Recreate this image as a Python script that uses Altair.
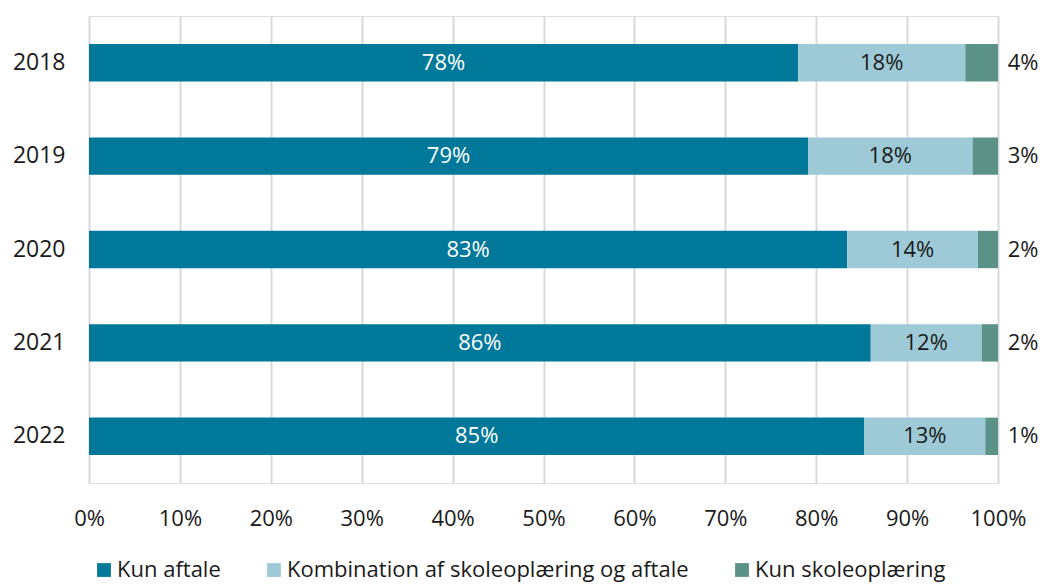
import altair as alt
import pandas as pd

years = ["2018", "2019", "2020", "2021", "2022"]
categories = ["Kun aftale", "Kombination af skoleoplæring og aftale", "Kun skoleoplæring"]
kun_aftale = [78.0, 79.1, 83.4, 86.0, 85.3]
kombination = [18.4, 18.1, 14.4, 12.2, 13.3]
kun_skole = [3.6, 2.8, 2.2, 1.8, 1.4]
colors = ["#00789A", "#9DCAD6", "#5B9287"]
label_colors = ["white", "#1a1a1a", "#1a1a1a"]

rows = []
for i, y in enumerate(years):
    start = 0.0
    for j, (cat, vals) in enumerate(zip(categories, [kun_aftale, kombination, kun_skole])):
        v = vals[i]
        rows.append({
            "year": y, "cat": cat, "order": j, "value": v,
            "start": start / 100, "end": (start + v) / 100,
            "mid": (start + v / 2) / 100,
            "label": f"{round(v)}%", "lcolor": label_colors[j],
        })
        start += v
df = pd.DataFrame(rows)

FONT = "Open Sans"
x_scale = alt.Scale(domain=[0, 1], nice=False)
y_enc = alt.Y("year:N", sort=years, title=None,
              scale=alt.Scale(paddingInner=0.6, paddingOuter=0.3),
              axis=alt.Axis(labelFontSize=23, labelPadding=24, ticks=False, domain=False,
                            labelColor="#1a1a1a", labelFont=FONT))

bars = alt.Chart(df).mark_bar().encode(
    x=alt.X("start:Q", scale=x_scale, title=None,
            axis=alt.Axis(format=".0%", values=[i / 10 for i in range(11)], labelFontSize=22,
                          labelFont=FONT, labelColor="#1a1a1a", ticks=False, domain=False,
                          labelFlush=False, labelBound=False,
                          grid=True, gridColor="#d9d9d9", gridWidth=2, labelPadding=25)),
    x2="end:Q",
    y=y_enc,
    color=alt.Color("cat:N", sort=categories,
                    scale=alt.Scale(domain=categories, range=colors),
                    legend=alt.Legend(title=None, orient="none", legendX=4, legendY=543,
                                      direction="horizontal", symbolType="square",
                                      symbolSize=190, symbolStrokeWidth=0, labelFontSize=22,
                                      labelFont=FONT, labelColor="#1a1a1a", columnPadding=42,
                                      labelOffset=2, labelLimit=600)),
    order="order:Q",
)

inner = alt.Chart(df[df["order"] < 2]).mark_text(fontSize=22, font=FONT).encode(
    x=alt.X("mid:Q", scale=x_scale),
    y=alt.Y("year:N", sort=years),
    text="label:N",
    color=alt.Color("lcolor:N", scale=None),
)

outer = alt.Chart(df[df["order"] == 2]).mark_text(fontSize=22, font=FONT, dx=25, color="#1a1a1a").encode(
    x=alt.X("end:Q", scale=x_scale),
    y=alt.Y("year:N", sort=years),
    text="label:N",
)

chart = (bars + inner + outer).properties(
    width=909, height=467,
    autosize=alt.AutoSizeParams(type="none"),
    padding={"left": 81, "top": 8, "right": 42, "bottom": 101},
).configure_view(stroke=None).configure(font=FONT)

chart.save("out.html", embed_options={"renderer": "svg", "actions": False})
